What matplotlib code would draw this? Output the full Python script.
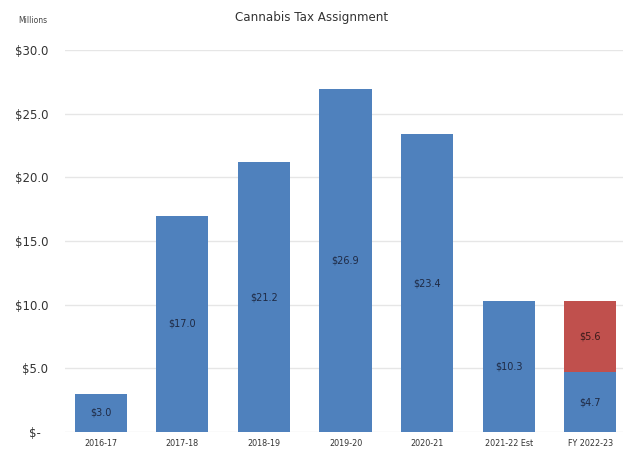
import numpy as np
import matplotlib.pyplot as plt

# cannabis tax assignment, $ millions
years = ['2016-17', '2017-18', '2018-19', '2019-20', '2020-21', '2021-22 Est', 'FY 2022-23']
base = [3.0, 17.0, 21.2, 26.9, 23.4, 10.3, 4.7]
extra = [0, 0, 0, 0, 0, 0, 5.6]

yticks = [0, 5, 10, 15, 20, 25, 30]
ylabels = ['$-  ', '$5.0', '$10.0', '$15.0', '$20.0', '$25.0', '$30.0']

blue = '#4F81BD'
red = '#C0504D'

fig = plt.figure(figsize=(6.23, 4.5), dpi=100)
ax = fig.add_axes([0.104, 0.04, 0.896, 0.849])

x = np.arange(len(years))
ax.bar(x, base, width=0.64, color=blue, zorder=2)
ax.bar(x, extra, width=0.64, bottom=base, color=red, zorder=2)

# labels in the middle of each segment
for i in range(len(years)):
    ax.text(x[i], base[i] / 2, '$%.1f' % base[i], ha='center', va='center',
            fontsize=7, color='#1f2a44', zorder=3)
    if extra[i] > 0:
        ax.text(x[i], base[i] + extra[i] / 2, '$%.1f' % extra[i], ha='center',
                va='center', fontsize=7, color='#3a1a1a', zorder=3)

ax.set_ylim(0, 30)
ax.set_xlim(-0.44, 6.4)
ax.set_yticks(yticks)
ax.set_yticklabels(ylabels, fontsize=8.5, color='#333333')
ax.set_xticks(x)
ax.set_xticklabels(years, fontsize=5.8, color='#333333')
ax.tick_params(axis='y', length=0, pad=12)
ax.tick_params(axis='x', length=0, pad=5)
ax.grid(axis='y', color='#e6e6e6', linewidth=1, zorder=0)
for s in ax.spines.values():
    s.set_visible(False)

fig.text(0.5, 0.962, 'Cannabis Tax Assignment', ha='center', va='center',
         fontsize=8.6, color='#333333')
fig.text(0.053, 0.955, 'Millions', ha='center', va='center', fontsize=5.5,
         color='#444444')

plt.savefig('out.png', dpi=100)
